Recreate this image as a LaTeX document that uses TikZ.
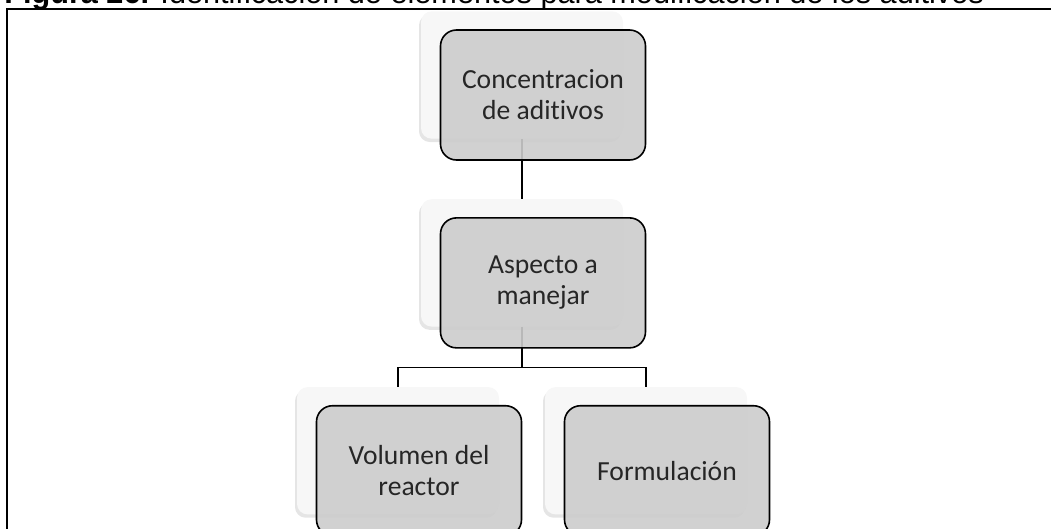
\documentclass[tikz,border=0pt]{standalone}
\usepackage{fontspec}
\setmainfont{Carlito}[Ligatures=NoCommon]
\newfontfamily\captfont{Liberation Sans}
\usetikzlibrary{positioning,shadows}

\begin{document}
\begin{tikzpicture}[
  x=0.75pt, y=-0.75pt,
  node distance=45pt,
  back/.style={rounded corners=8pt,fill=gray!6,inner sep=0pt,minimum width=151.5pt,minimum height=95.5pt,
    drop shadow={shadow xshift=-1.5pt,shadow yshift=-2.5pt,fill=black!40,opacity=0.25}},
  item/.style={draw,line width=1.2pt,rounded corners=12pt,fill=black!20,fill opacity=0.9,text opacity=1,
    minimum width=153.75pt,minimum height=97.5pt,align=center,text=black!85,
    font=\fontsize{20.7}{23.3}\selectfont},
  link/.style={line width=1pt},
  frame/.style={line width=1.4pt}
]
\useasboundingbox (0,0) rectangle (1051,529);
\clip (0,0) rectangle (1051,529);

\node[anchor=base west,inner sep=0pt,font=\captfont\fontsize{23}{27}\selectfont] (caption) at (4,3)
  {\textbf{Figura 26.} Identificación de elementos para modificación de los aditivos};
\draw[frame] (7,9) rectangle (1070,560);

% cards behind the boxes
\node[back] (cback) at (522,75) {};
\node[back,below=of cback] (aback) {};
\node[back,below=45pt of aback,xshift=-93pt] (vback) {};
\node[back,below=45pt of aback,xshift=93pt] (fback) {};

\draw[link] (cback) -- (aback);
\draw[link] (aback.south) -- ++(0,41) -| (vback.north);
\draw[link] (aback.south) -- ++(0,41) -| (fback.north);

\node[item] (conc) at ([shift={(21,20)}]cback.center) {Concentracion\\de aditivos};
\node[item] (asp) at ([shift={(21,20)}]aback.center) {Aspecto a\\manejar};
\node[item] (vol) at ([shift={(21,20)}]vback.center) {Volumen del\\reactor};
\node[item] (form) at ([shift={(21,20)}]fback.center) {Formulación};
\end{tikzpicture}
\end{document}
